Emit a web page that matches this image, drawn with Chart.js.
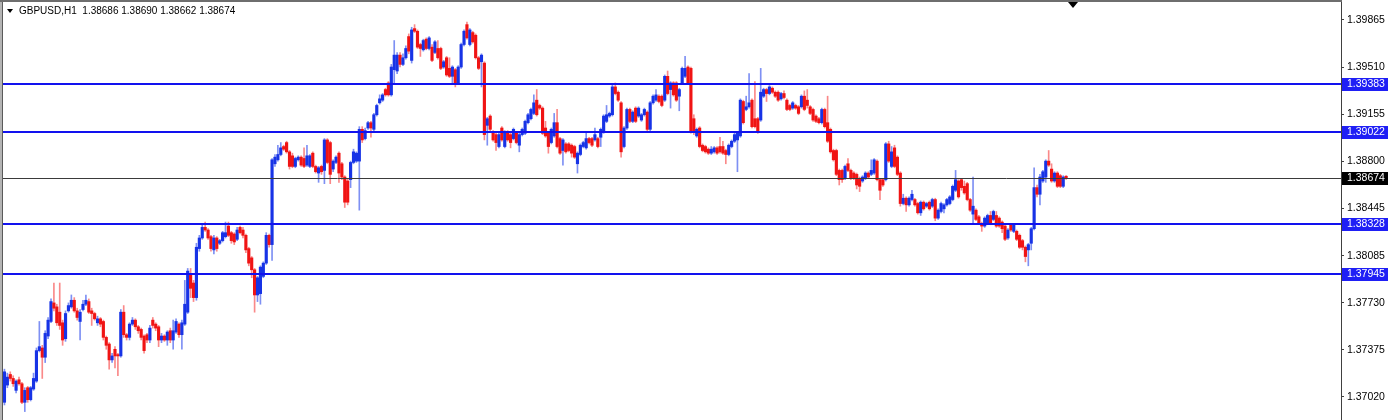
<!DOCTYPE html>
<html>
<head>
<meta charset="utf-8">
<script src="https://cdn.jsdelivr.net/npm/chart.js@4.4.1/dist/chart.umd.min.js"></script>
<style>
html, body { margin: 0; padding: 0; background: #fff; }
#wrap { position: relative; width: 1395px; height: 420px; overflow: hidden; }
#c { position: absolute; left: 0; top: 0; }
#tri { position: absolute; left: 7px; top: 9px; width: 0; height: 0;
       border-left: 3px solid transparent; border-right: 3px solid transparent; border-top: 4px solid #000; }
#title { position: absolute; left: 19px; top: 5px; font: 10px "Liberation Sans", Arial, sans-serif;
         color: #000; white-space: pre; line-height: 12px; }
#shift { position: absolute; left: 1068px; top: 2px; width: 0; height: 0;
         border-left: 5px solid transparent; border-right: 5px solid transparent; border-top: 6px solid #000; }
</style>
</head>
<body>
<div id="wrap">
  <canvas id="c" width="1395" height="420"></canvas>
  <div id="tri"></div>
  <div id="title">GBPUSD,H1  1.38686 1.38690 1.38662 1.38674</div>
  <div id="shift"></div>
</div>
<script>
// GBPUSD H1 candles, oldest first
var opens = [
  1.3698,1.3711,1.3719,1.3716,1.3707,1.3715,1.3712,1.3698,1.3709,1.3700,
  1.3708,1.3714,1.3737,1.3739,1.3732,1.3748,1.3759,1.3773,1.3770,1.3766,
  1.3758,1.3746,1.3767,1.3770,1.3775,1.3767,1.3759,1.3768,1.3772,1.3774,
  1.3767,1.3765,1.3758,1.3761,1.3759,1.3747,1.3742,1.3730,1.3738,1.3734,
  1.3733,1.3766,1.3749,1.3747,1.3757,1.3760,1.3755,1.3753,1.3748,1.3749,
  1.3745,1.3760,1.3757,1.3755,1.3745,1.3748,1.3745,1.3752,1.3745,1.3751,
  1.3757,1.3749,1.3757,1.3766,
  1.3794,1.3788,1.3777,1.3814,1.3822,1.3830,1.3828,1.3823,1.3813,1.3822,
  1.3818,1.3820,1.3823,1.3831,1.3826,1.3825,1.3821,1.3830,1.3828,1.3824,
  1.3814,1.3807,1.3798,1.3779,1.3780,1.3793,1.3803,1.3824,1.3817,1.3878,
  1.3881,1.3885,1.3891,1.3894,1.3887,1.3884,1.3876,1.3881,1.3883,1.3882,
  1.3877,1.3876,1.3886,1.3876,1.3871,1.3876,1.3873,1.3896,1.3894,1.3874,
  1.3879,1.3886,1.3878,1.3868,1.3865,1.3866,1.3879,1.3880,1.3880,1.3904,
  1.3897,
  1.3905,1.3909,1.3904,1.3915,1.3924,1.3926,1.3934,1.3939,1.3930,1.3949,
  1.3948,1.3960,1.3953,1.3958,1.3974,1.3956,1.3980,1.3978,1.3968,1.3964,
  1.3972,1.3965,1.3966,1.3962,1.3965,1.3965,1.3951,1.3958,1.3950,1.3944,
  1.3949,1.3939,1.3951,1.3968,1.3983,1.3968,1.3977,1.3975,1.3958,1.3955,
  1.3954,1.3907,1.3914,1.3902,1.3900,1.3891,1.3905,1.3891,1.3902,1.3900,
  1.3897,1.3901,1.3892,1.3900,1.3901,1.3909,1.3912,1.3916,1.3926,1.3922,
  1.3920,1.3905,1.3901,1.3894,1.3899,1.3909,1.3897,1.3888,1.3893,1.3893,
  1.3892,1.3891,1.3878,1.3885,1.3891,1.3890,1.3897,1.3897,1.3896,1.3897,
  1.3898,1.3902,1.3910,1.3914,1.3915,1.3936,1.3932,1.3924,1.3891,1.3905,
  1.3919,1.3910,1.3920,1.3914,1.3911,1.3915,1.3917,1.3904,1.3924,1.3926,
  1.3929,1.3929,1.3926,1.3944,1.3934,1.3939,1.3939,1.3929,1.3939,1.3944,
  1.3951,1.3950,1.3912,1.3899,1.3905,1.3892,1.3891,1.3889,
  1.3886,1.3887,1.3890,1.3891,1.3891,1.3888,1.3885,1.3891,1.3895,1.3896,
  1.3899,1.3925,1.3919,1.3921,1.3926,1.3912,1.3912,1.3911,1.3929,1.3934,
  1.3931,1.3935,1.3932,1.3932,1.3927,1.3931,1.3926,1.3922,1.3920,1.3922,
  1.3921,1.3921,1.3929,1.3926,1.3921,1.3919,1.3914,1.3912,1.3909,1.3919,
  1.3909,1.3904,1.3888,1.3888,1.3873,1.3873,1.3867,1.3878,1.3873,1.3871,
  1.3870,1.3867,1.3865,1.3867,1.3871,1.3870,1.3871,1.3880,1.3866,1.3866,
  1.3866,
  1.3893,1.3876,1.3890,1.3883,1.3871,1.3848,1.3852,1.3847,1.3851,1.3851,
  1.3848,1.3841,1.3849,1.3846,1.3849,1.3846,1.3851,1.3837,1.3842,1.3844,
  1.3847,1.3848,1.3851,1.3858,1.3865,1.3866,1.3861,1.3863,1.3851,1.3840,
  1.3843,1.3838,1.3833,1.3831,1.3833,1.3839,1.3836,1.3839,1.3837,1.3834,
  1.3831,1.3822,1.3832,1.3827,1.3827,1.3824,1.3820,1.3815,1.3813,1.3818,
  1.3829,1.3860,1.3855,1.3865,1.3868,1.3880,1.3874,1.3865,1.3871,1.3869,
  1.3861,1.38686
];
var highs = [
  1.3723,1.3720,1.3721,1.3718,1.3715,1.3717,1.3713,1.3709,1.3710,1.3710,
  1.3720,1.3739,1.3759,1.3741,1.3752,1.3762,1.3776,1.3788,1.3772,1.3788,
  1.3760,1.3767,1.3773,1.3779,1.3777,1.3769,1.3768,1.3775,1.3779,1.3776,
  1.3769,1.3766,1.3763,1.3762,1.3760,1.3748,1.3743,1.3735,1.3740,1.3735,
  1.3768,1.3771,1.3750,1.3758,1.3762,1.3761,1.3756,1.3754,1.3749,1.3750,
  1.3756,1.3762,1.3758,1.3756,1.3750,1.3749,1.3752,1.3754,1.3760,1.3761,
  1.3758,1.3760,1.3790,1.3799,
  1.3799,1.3790,1.3818,1.3824,1.3833,1.3834,1.3829,1.3824,1.3824,1.3823,
  1.3821,1.3827,1.3834,1.3834,1.3827,1.3826,1.3830,1.3831,1.3830,1.3825,
  1.3815,1.3808,1.3799,1.3793,1.3801,1.3804,1.3826,1.3825,1.3882,1.3885,
  1.3892,1.3894,1.3892,1.3895,1.3888,1.3886,1.3883,1.3884,1.3884,1.3890,
  1.3892,1.3885,1.3887,1.3877,1.3876,1.3877,1.3897,1.3897,1.3895,1.3881,
  1.3884,1.3887,1.3879,1.3869,1.3867,1.3880,1.3889,1.3887,1.3906,1.3906,
  1.3905,
  1.3910,1.3910,1.3916,1.3923,1.3930,1.3931,1.3935,1.3940,1.3953,1.3971,
  1.3962,1.3962,1.3961,1.3967,1.3976,1.3981,1.3983,1.3979,1.3969,1.3972,
  1.3973,1.3974,1.3968,1.3971,1.3971,1.3966,1.3956,1.3959,1.3958,1.3952,
  1.3950,1.3952,1.3969,1.3979,1.3985,1.3980,1.3978,1.3976,1.3959,1.3961,
  1.3955,1.3913,1.3915,1.3903,1.3901,1.3901,1.3906,1.3903,1.3903,1.3901,
  1.3905,1.3902,1.3901,1.3905,1.3911,1.3916,1.3920,1.3930,1.3934,1.3923,
  1.3921,1.3910,1.3902,1.3905,1.3916,1.3919,1.3898,1.3897,1.3894,1.3894,
  1.3893,1.3892,1.3887,1.3893,1.3895,1.3902,1.3898,1.3898,1.3905,1.3898,
  1.3905,1.3915,1.3922,1.3917,1.3938,1.3939,1.3933,1.3925,1.3906,1.3920,
  1.3920,1.3918,1.3921,1.3921,1.3916,1.3920,1.3918,1.3925,1.3930,1.3934,
  1.3930,1.3930,1.3945,1.3948,1.3940,1.3940,1.3940,1.3935,1.3951,1.3959,
  1.3952,1.3951,1.3915,1.3905,1.3906,1.3893,1.3892,1.3890,
  1.3891,1.3891,1.3891,1.3898,1.3895,1.3889,1.3893,1.3896,1.3901,1.3902,
  1.3927,1.3926,1.3929,1.3946,1.3927,1.3940,1.3913,1.3950,1.3935,1.3935,
  1.3937,1.3936,1.3933,1.3933,1.3932,1.3933,1.3927,1.3923,1.3925,1.3923,
  1.3922,1.3930,1.3933,1.3934,1.3922,1.3920,1.3915,1.3913,1.3920,1.3920,
  1.3929,1.3905,1.3889,1.3889,1.3874,1.3874,1.3877,1.3882,1.3874,1.3872,
  1.3871,1.3868,1.3869,1.3872,1.3872,1.3881,1.3882,1.3881,1.3867,1.3867,
  1.3894,
  1.3895,1.3891,1.3892,1.3884,1.3872,1.3855,1.3853,1.3853,1.3858,1.3852,
  1.3849,1.3850,1.3850,1.3849,1.3850,1.3852,1.3852,1.3844,1.3849,1.3848,
  1.3852,1.3854,1.3862,1.3873,1.3866,1.3867,1.3865,1.3864,1.3852,1.3868,
  1.3844,1.3839,1.3834,1.3838,1.3840,1.3842,1.3843,1.3842,1.3838,1.3835,
  1.3832,1.3829,1.3833,1.3833,1.3828,1.3825,1.3821,1.3816,1.3818,1.3830,
  1.3875,1.3862,1.3870,1.3873,1.3881,1.3888,1.3878,1.3872,1.3872,1.3870,
  1.3869,1.38690
];
var lows = [
  1.3696,1.3709,1.3714,1.3710,1.3705,1.3711,1.3697,1.3691,1.3698,1.3699,
  1.3707,1.3713,1.3736,1.3716,1.3728,1.3746,1.3758,1.3767,1.3756,1.3753,
  1.3741,1.3744,1.3766,1.3769,1.3766,1.3760,1.3745,1.3767,1.3771,1.3765,
  1.3756,1.3760,1.3756,1.3755,1.3745,1.3738,1.3723,1.3728,1.3724,1.3718,
  1.3732,1.3747,1.3745,1.3745,1.3756,1.3753,1.3750,1.3745,1.3735,1.3743,
  1.3743,1.3754,1.3752,1.3740,1.3743,1.3744,1.3741,1.3743,1.3738,1.3750,
  1.3747,1.3738,1.3756,1.3765,
  1.3777,1.3774,1.3775,1.3812,1.3821,1.3827,1.3821,1.3812,1.3810,1.3812,
  1.3817,1.3819,1.3822,1.3823,1.3818,1.3817,1.3820,1.3825,1.3822,1.3811,
  1.3801,1.3792,1.3766,1.3774,1.3772,1.3792,1.3802,1.3815,1.3805,1.3876,
  1.3880,1.3884,1.3888,1.3886,1.3874,1.3875,1.3875,1.3880,1.3876,1.3875,
  1.3876,1.3875,1.3875,1.3871,1.3864,1.3870,1.3863,1.3878,1.3863,1.3872,
  1.3878,1.3864,1.3866,1.3845,1.3847,1.3860,1.3878,1.3879,1.3843,1.3894,
  1.3896,
  1.3904,1.3898,1.3902,1.3914,1.3923,1.3925,1.3929,1.3929,1.3929,1.3939,
  1.3946,1.3951,1.3952,1.3957,1.3961,1.3954,1.3977,1.3965,1.3959,1.3963,
  1.3964,1.3964,1.3955,1.3961,1.3957,1.3949,1.3950,1.3944,1.3943,1.3939,
  1.3936,1.3938,1.3950,1.3967,1.3972,1.3967,1.3969,1.3957,1.3949,1.3936,
  1.3896,1.3892,1.3903,1.3895,1.3888,1.3890,1.3895,1.3890,1.3895,1.3890,
  1.3896,1.3893,1.3887,1.3899,1.3900,1.3908,1.3911,1.3915,1.3914,1.3919,
  1.3900,1.3898,1.3886,1.3893,1.3898,1.3890,1.3885,1.3877,1.3886,1.3887,
  1.3883,1.3882,1.3871,1.3884,1.3890,1.3889,1.3893,1.3891,1.3895,1.3890,
  1.3891,1.3901,1.3909,1.3913,1.3914,1.3930,1.3925,1.3883,1.3890,1.3904,
  1.3909,1.3909,1.3909,1.3913,1.3910,1.3914,1.3903,1.3903,1.3923,1.3925,
  1.3924,1.3921,1.3925,1.3930,1.3920,1.3929,1.3925,1.3918,1.3938,1.3943,
  1.3938,1.3901,1.3900,1.3898,1.3890,1.3887,1.3886,1.3885,
  1.3885,1.3886,1.3885,1.3886,1.3885,1.3878,1.3884,1.3890,1.3894,1.3872,
  1.3898,1.3908,1.3918,1.3920,1.3905,1.3905,1.3901,1.3910,1.3928,1.3925,
  1.3930,1.3931,1.3928,1.3925,1.3926,1.3927,1.3918,1.3918,1.3919,1.3919,
  1.3915,1.3920,1.3918,1.3920,1.3915,1.3910,1.3909,1.3908,1.3908,1.3905,
  1.3894,1.3886,1.3880,1.3869,1.3862,1.3864,1.3866,1.3872,1.3866,1.3866,
  1.3859,1.3857,1.3864,1.3866,1.3867,1.3869,1.3870,1.3865,1.3851,1.3861,
  1.3865,
  1.3879,1.3875,1.3875,1.3869,1.3846,1.3847,1.3842,1.3846,1.3850,1.3846,
  1.3840,1.3839,1.3843,1.3845,1.3843,1.3845,1.3835,1.3836,1.3841,1.3841,
  1.3846,1.3847,1.3850,1.3857,1.3852,1.3858,1.3855,1.3850,1.3842,1.3832,
  1.3835,1.3832,1.3827,1.3830,1.3832,1.3832,1.3835,1.3830,1.3830,1.3826,
  1.3820,1.3821,1.3827,1.3826,1.3820,1.3814,1.3813,1.3804,1.3801,1.3813,
  1.3828,1.3853,1.3847,1.3864,1.3864,1.3876,1.3864,1.3864,1.3860,1.3860,
  1.3860,1.38662
];
var closes = [
  1.3721,1.3717,1.3716,1.3712,1.3714,1.3712,1.3698,1.3707,1.3700,1.3709,
  1.3716,1.3737,1.3740,1.3732,1.3750,1.3760,1.3774,1.3769,1.3758,1.3756,
  1.3745,1.3765,1.3771,1.3775,1.3767,1.3762,1.3766,1.3772,1.3775,1.3766,
  1.3765,1.3761,1.3761,1.3757,1.3747,1.3741,1.3730,1.3733,1.3733,1.3733,
  1.3766,1.3749,1.3747,1.3757,1.3760,1.3755,1.3752,1.3747,1.3737,1.3745,
  1.3754,1.3756,1.3754,1.3745,1.3748,1.3745,1.3751,1.3745,1.3752,1.3759,
  1.3749,1.3758,1.3772,1.3797,
  1.3784,1.3777,1.3815,1.3822,1.3830,1.3828,1.3822,1.3814,1.3822,1.3814,
  1.3820,1.3826,1.3826,1.3824,1.3820,1.3819,1.3828,1.3826,1.3824,1.3813,
  1.3803,1.3798,1.3779,1.3792,1.3800,1.3803,1.3824,1.3817,1.3881,1.3883,
  1.3885,1.3890,1.3889,1.3887,1.3876,1.3876,1.3882,1.3883,1.3877,1.3876,
  1.3884,1.3884,1.3876,1.3872,1.3875,1.3872,1.3896,1.3879,1.3870,1.3880,
  1.3883,1.3871,1.3868,1.3849,1.3849,1.3879,1.3887,1.3886,1.3904,1.3896,
  1.3903,
  1.3909,1.3905,1.3915,1.3922,1.3927,1.3930,1.3930,1.3930,1.3951,1.3960,
  1.3960,1.3953,1.3958,1.3965,1.3963,1.3979,1.3978,1.3966,1.3965,1.3971,
  1.3965,1.3973,1.3956,1.3970,1.3958,1.3950,1.3955,1.3945,1.3944,1.3951,
  1.3938,1.3951,1.3968,1.3978,1.3973,1.3979,1.3970,1.3958,1.3950,1.3960,
  1.3900,1.3912,1.3904,1.3896,1.3894,1.3900,1.3896,1.3902,1.3896,1.3894,
  1.3904,1.3894,1.3900,1.3904,1.3910,1.3915,1.3919,1.3924,1.3915,1.3920,
  1.3901,1.3899,1.3891,1.3904,1.3909,1.3891,1.3886,1.3896,1.3887,1.3888,
  1.3886,1.3883,1.3886,1.3892,1.3894,1.3897,1.3894,1.3892,1.3900,1.3891,
  1.3904,1.3914,1.3915,1.3916,1.3936,1.3931,1.3926,1.3887,1.3905,1.3919,
  1.3910,1.3917,1.3910,1.3920,1.3915,1.3919,1.3904,1.3924,1.3929,1.3930,
  1.3925,1.3922,1.3944,1.3931,1.3939,1.3930,1.3926,1.3934,1.3950,1.3950,
  1.3939,1.3902,1.3902,1.3904,1.3891,1.3888,1.3887,1.3886,
  1.3889,1.3890,1.3886,1.3887,1.3886,1.3885,1.3892,1.3895,1.3900,1.3901,
  1.3926,1.3909,1.3921,1.3924,1.3906,1.3906,1.3902,1.3932,1.3934,1.3931,
  1.3936,1.3932,1.3929,1.3926,1.3931,1.3928,1.3919,1.3919,1.3924,1.3920,
  1.3916,1.3929,1.3919,1.3922,1.3916,1.3911,1.3910,1.3909,1.3919,1.3906,
  1.3895,1.3887,1.3881,1.3870,1.3866,1.3866,1.3876,1.3873,1.3867,1.3867,
  1.3862,1.3861,1.3868,1.3871,1.3868,1.3873,1.3881,1.3866,1.3858,1.3862,
  1.3893,
  1.3880,1.3887,1.3876,1.3870,1.3848,1.3852,1.3847,1.3852,1.3855,1.3847,
  1.3841,1.3849,1.3844,1.3848,1.3844,1.3851,1.3837,1.3843,1.3848,1.3847,
  1.3851,1.3853,1.3861,1.3866,1.3853,1.3860,1.3856,1.3851,1.3843,1.3846,
  1.3836,1.3833,1.3831,1.3837,1.3839,1.3833,1.3842,1.3831,1.3831,1.3829,
  1.3821,1.3828,1.3828,1.3832,1.3821,1.3815,1.3815,1.3808,1.3817,1.3829,
  1.3860,1.3855,1.3868,1.3872,1.3880,1.3877,1.3865,1.3871,1.3861,1.3861,
  1.3868,1.38674
];

// horizontal levels drawn on the chart
var levels = [1.39383, 1.39022, 1.38328, 1.37945];
// price scale labels on the right
var yTicks = [1.39865, 1.39510, 1.39155, 1.38800, 1.38445, 1.38085, 1.37730, 1.37375, 1.37020];
var yMin = 1.368464, yMax = 1.400008;
var slotCount = 460; // chart shift leaves empty room on the right

var labels = [];
for (var i = 0; i < slotCount; i++) labels.push('');

var bodies = opens.map(function(o, i) { return [o, closes[i]]; });
var wicks = lows.map(function(l, i) { return [l, highs[i]]; });
var bodyColors = opens.map(function(o, i) { return closes[i] >= o ? '#1733e6' : '#f01414'; });
var wickColors = opens.map(function(o, i) { return closes[i] >= o ? 'rgba(40,70,235,0.6)' : 'rgba(245,40,40,0.55)'; });

var font = { family: '"Liberation Sans", Arial, sans-serif', size: 10.5 };

var overlay = {
  id: 'overlay',
  afterDatasetsDraw: function(chart) {
    var ctx = chart.ctx, a = chart.chartArea, y = chart.scales.y;
    ctx.save();
    levels.forEach(function(v) {
      var py = Math.round(y.getPixelForValue(v));
      ctx.fillStyle = '#1212ee';
      ctx.fillRect(a.left, py - 1, a.right - a.left, 2);
    });
    var last = closes[closes.length - 1];
    var pc = Math.round(y.getPixelForValue(last)) + 0.5;
    ctx.strokeStyle = '#3a3a3a';
    ctx.lineWidth = 1;
    ctx.beginPath(); ctx.moveTo(a.left, pc); ctx.lineTo(a.right, pc); ctx.stroke();
    ctx.restore();
  },
  afterDraw: function(chart) {
    var ctx = chart.ctx, a = chart.chartArea, y = chart.scales.y;
    ctx.save();
    // window frame
    ctx.fillStyle = '#b4b4b4';
    ctx.fillRect(0, 0, 2, chart.height);
    ctx.fillStyle = '#5a5a5a';
    ctx.fillRect(2, 0, 1, chart.height);
    ctx.fillStyle = '#6e6e6e';
    ctx.fillRect(0, 0, a.right + 1, 2);
    // price boxes
    ctx.font = '10.5px ' + font.family;
    ctx.textBaseline = 'middle';
    ctx.textAlign = 'left';
    var boxes = levels.map(function(v) { return { v: v, c: '#1f1ff5' }; });
    boxes.push({ v: closes[closes.length - 1], c: '#000000' });
    boxes.forEach(function(b) {
      var py = Math.round(y.getPixelForValue(b.v));
      ctx.fillStyle = b.c;
      ctx.fillRect(a.right + 1, py - 6, 46, 13);
      ctx.fillStyle = '#ffffff';
      ctx.fillText(b.v.toFixed(5), a.right + 6, py + 0.5);
    });
    ctx.restore();
  }
};

var ctx = document.getElementById('c').getContext('2d');
window.candleChart = new Chart(ctx, {
  type: 'bar',
  data: {
    labels: labels,
    datasets: [{
      label: 'body',
      data: bodies,
      backgroundColor: bodyColors,
      barThickness: 2.5,
      grouped: false,
      order: 1
    }, {
      label: 'wick',
      data: wicks,
      backgroundColor: wickColors,
      barThickness: 1,
      grouped: false,
      order: 2
    }]
  },
  options: {
    responsive: false,
    animation: false,
    devicePixelRatio: 1,
    layout: { padding: { left: 3, right: 0, top: 2, bottom: 0 } },
    plugins: { legend: { display: false }, tooltip: { enabled: false } },
    scales: {
      x: { display: false },
      y: {
        position: 'right',
        min: yMin,
        max: yMax,
        afterFit: function(s) { s.width = 54; s.paddingTop = 0; s.paddingBottom = 0; },
        afterBuildTicks: function(s) { s.ticks = yTicks.map(function(v) { return { value: v }; }); },
        ticks: {
          color: '#000',
          font: font,
          padding: 3,
          callback: function(v) { return Number(v).toFixed(5); }
        },
        grid: { drawOnChartArea: false, drawTicks: true, tickLength: 3, color: '#404040' },
        border: { display: true, color: '#404040' }
      }
    }
  },
  plugins: [overlay]
});
</script>
</body>
</html>
